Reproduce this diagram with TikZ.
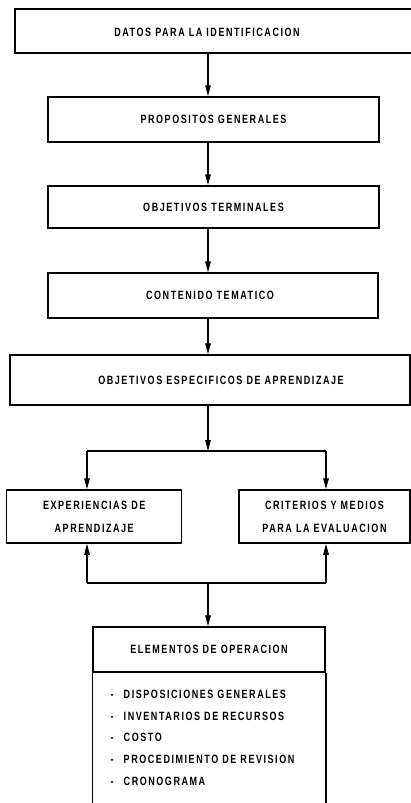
\documentclass[tikz,border=0pt]{standalone}
\usepackage{fontspec}
\newfontfamily\lettering[FakeStretch=0.75,LetterSpace=13]{Liberation Sans Bold}
\usetikzlibrary{arrows.meta}
\begin{document}
\begin{tikzpicture}[x=1pt,y=-1pt,
  frame/.style={draw, line width=1.5pt, inner sep=0pt, align=center,
    font=\lettering\fontsize{12}{23}\selectfont},
  lbl/.style={font=\lettering\fontsize{12}{23}\selectfont, inner sep=0pt},
  arr/.style={line width=1.4pt, -{Triangle[width=5.5pt,length=11pt]}},
  wire/.style={line width=1.4pt},
  item/.style={lbl, anchor=west}]
\useasboundingbox (0,0) rectangle (411,803);
\fill[white] (0,0) rectangle (411,803);

% vertical axis of the main chain
\coordinate (ax) at (208,0);

% main chain of boxes
\node[frame, minimum width=401pt, minimum height=44pt] (b1) at (215.5,31) {};
\node[lbl] (t1) at (207,32) {DATOS PARA LA IDENTIFICACION};
\node[frame, minimum width=331pt, minimum height=45pt] (b2) at (213.5,119.5) {PROPOSITOS GENERALES};
\node[frame, minimum width=331pt, minimum height=42pt] (b3) at (213.5,207) {OBJETIVOS TERMINALES};
\node[frame, minimum width=330pt, minimum height=45pt] (b4) at (213,295.7) {};
\node[lbl] (t4) at (210,295.5) {CONTENIDO TEMATICO};
\node[frame, minimum width=400pt, minimum height=50pt] (b5) at (210,380) {};
\node[lbl] (t5) at (221,380) {OBJETIVOS ESPECIFICOS DE APRENDIZAJE};

\draw[arr] (b1.south -| ax) -- (b2.north -| ax);
\draw[arr] (b2.south -| ax) -- (b3.north -| ax);
\draw[arr] (b3.south -| ax) -- (b4.north -| ax);
\draw[arr] (b4.south -| ax) -- (b5.north -| ax);

% the two parallel boxes
\node[frame, minimum width=175pt, minimum height=53pt] (b6l) at (94.2,516.5) {EXPERIENCIAS DE\\APRENDIZAJE};
\node[frame, minimum width=171pt, minimum height=53pt] (b6r) at (324.5,516.5) {CRITERIOS Y MEDIOS\\PARA LA EVALUACION};

% split above them
\coordinate (sp) at (208,451);
\coordinate (spl) at (87,451);
\coordinate (spr) at (326,451);
\draw[arr] (b5.south -| ax) -- (sp);
\draw[wire] (spl) -- (spr);
\draw[arr] (spl) -- (spl |- b6l.north);
\draw[arr] (spr) -- (spr |- b6r.north);

% operation elements
\node[frame, minimum width=232pt, minimum height=45pt] (b7) at (209,649.5) {ELEMENTOS DE OPERACION};
\coordinate (bot) at (0,806);
\draw[line width=1.5pt] (b7.south west) -- (b7.south west |- bot);
\draw[line width=1.5pt] (b7.south east) -- (b7.south east |- bot);

% join below the parallel boxes
\coordinate (jn) at (208,583);
\coordinate (jl) at (87,583);
\coordinate (jr) at (326,583);
\draw[wire] (jl) -- (jr);
\draw[arr] (jl) -- (jl |- b6l.south);
\draw[arr] (jr) -- (jr |- b6r.south);
\draw[arr] (jn) -- (jn |- b7.north);

% list of elements
\node[item] (i1) at (110.5,694.3) {\makebox[13pt][l]{-}DISPOSICIONES GENERALES};
\node[item] (i2) at (110.5,716) {\makebox[13pt][l]{-}INVENTARIOS DE RECURSOS};
\node[item] (i3) at (110.5,737.7) {\makebox[13pt][l]{-}COSTO};
\node[item] (i4) at (110.5,759.4) {\makebox[13pt][l]{-}PROCEDIMIENTO DE REVISION};
\node[item] (i5) at (110.5,781) {\makebox[13pt][l]{-}CRONOGRAMA};
\end{tikzpicture}
\end{document}
